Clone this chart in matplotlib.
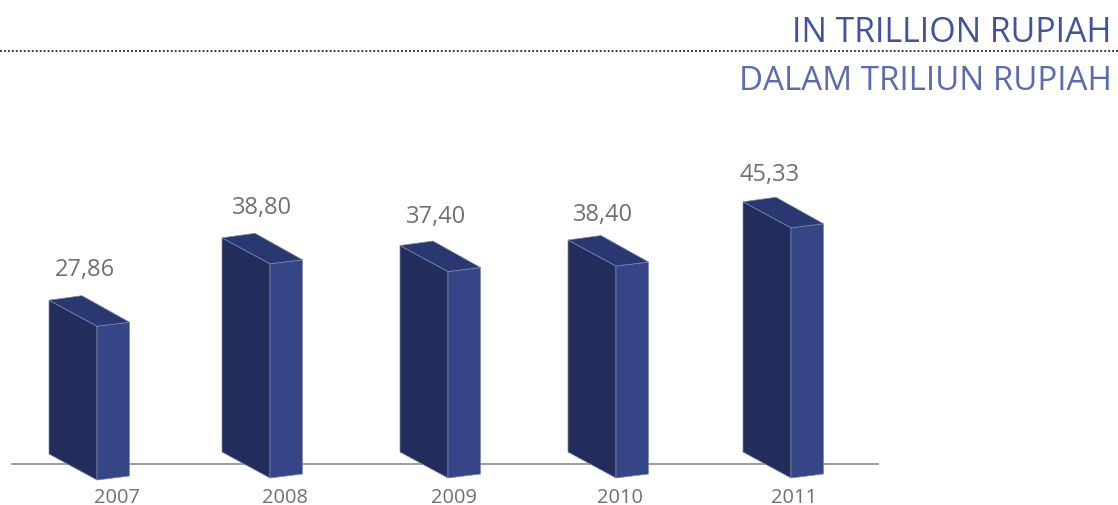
import matplotlib
matplotlib.use("Agg")
from matplotlib import pyplot as plt
from matplotlib.patches import Polygon

years = ["2007", "2008", "2009", "2010", "2011"]
values = [27.86, 38.80, 37.40, 38.40, 45.33]
value_labels = ["27,86", "38,80", "37,40", "38,40", "45,33"]
title_en = "IN TRILLION RUPIAH"
title_id = "DALAM TRILIUN RUPIAH"

W, H = 1118, 506
PX_PER_UNIT = 5.52

# layout, in pixels of the picture
bar_left = [49, 222, 400, 568, 743]
bar_base = [455, 453, 453, 453, 453]
label_x = [85, 262, 436, 603, 770]
label_gap = [31, 31, 30, 26, 28]
year_x = [117, 285, 454, 620, 794]

plt.rcParams['font.family'] = ['Open Sans', 'DejaVu Sans']

fig = plt.figure(figsize=(W / 100, H / 100), dpi=100)
ax = fig.add_axes([0, 0, 1, 1])
ax.set_xlim(0, W)
ax.set_ylim(H, 0)
ax.axis("off")

# top dotted rule and bar baseline
ax.plot([0, W], [52, 52], color="#222222", lw=1.3, ls=(0, (1, 1.2)))
ax.plot([12, 878], [465, 465], color="#8c8c8c", lw=1.2, zorder=1)

ax.text(1112, 33, title_en, color="#3f539f", fontsize=24.4, ha="right", va="center")
ax.text(1112, 81, title_id, color="#5b6bae", fontsize=23.9, ha="right", va="center")


def draw_bar(x, base, value):
    # the value sets the height of the box, the rest is the fake 3d projection
    top = base - value * PX_PER_UNIT
    edge = "#7d86ad"
    front = [(x, top), (x + 48, top + 26), (x + 48, base + 26), (x, base)]
    side = [(x + 48, top + 26), (x + 80.5, top + 22), (x + 80.5, base + 22), (x + 48, base + 26)]
    cap = [(x, top), (x + 33, top - 4.5), (x + 80.5, top + 22), (x + 48, top + 26)]
    ax.add_patch(Polygon(front, fc="#222d5b", ec=edge, lw=0.5, zorder=2))
    ax.add_patch(Polygon(side, fc="#364586", ec=edge, lw=0.5, zorder=2))
    ax.add_patch(Polygon(cap, fc="#2a3872", ec=edge, lw=0.5, zorder=2))
    return top


for i, v in enumerate(values):
    top = draw_bar(bar_left[i], bar_base[i], v)
    ax.text(label_x[i], top - label_gap[i], value_labels[i], color="#707070",
            fontsize=17, ha="center", va="center")
    ax.text(year_x[i], 498, years[i], color="#707070", fontsize=14.4,
            ha="center", va="center")

fig.savefig("out.png", dpi=100)
